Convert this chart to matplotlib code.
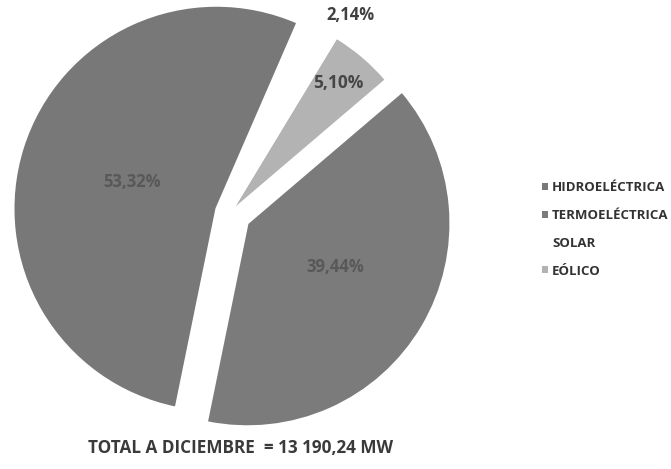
import matplotlib.pyplot as plt

# capacidad instalada por tipo de fuente (%)
fuentes = ["HIDROELÉCTRICA", "TERMOELÉCTRICA", "EÓLICO", "SOLAR"]
porcentajes = [53.32, 39.44, 5.10, 2.14]
colores = ["#787878", "#7b7b7b", "#b3b3b3", "#ffffff"]
separacion = [0.07, 0.10, 0.01, 0.0]
orden_leyenda = [0, 1, 3, 2]
total_mw = "13 190,24"

W, H = 671, 469
fig = plt.figure(figsize=(W / 100, H / 100), dpi=100)
ax = fig.add_axes([0, 0, 1, 1])

FONT = ["Open Sans", "DejaVu Sans"]

cuñas, _ = ax.pie(porcentajes, colors=colores, explode=[s * 203 for s in separacion],
                  startangle=66.5, counterclock=True, center=(230, 256), radius=203,
                  wedgeprops=dict(edgecolor="white", linewidth=1.5),
                  frame=True)
ax.set_xlim(0, W)
ax.set_ylim(0, H)
ax.set_aspect("equal")
ax.axis("off")

# etiquetas de porcentaje
pos_etiquetas = [(132, 287), (335, 202), (338, 386), (350, 454)]
estilo = [("#585858", 12), ("#585858", 12), ("#464646", 12.5), ("#404040", 12)]
for v, (x, y), (c, fs) in zip(porcentajes, pos_etiquetas, estilo):
    ax.text(x, y, f"{v:.2f}%".replace(".", ","), ha="center", va="center",
            color=c, fontweight="bold", fontsize=fs, family=FONT)

leg = ax.legend([cuñas[i] for i in orden_leyenda], [fuentes[i] for i in orden_leyenda],
                loc="upper left", bbox_to_anchor=(537 / W, 1 - 176 / H),
                frameon=False, handlelength=0.45, handleheight=0.45,
                handletextpad=0.3, labelspacing=1.12, borderaxespad=0,
                prop=dict(family=FONT, weight="bold", size=9.5))
for t in leg.get_texts():
    t.set_color("#333333")
for h in leg.legend_handles:
    h.set_linewidth(0)

fig.text(240 / W, 1 - 448 / H, f"TOTAL A DICIEMBRE  = {total_mw} MW",
         ha="center", va="center", fontsize=12.3, fontweight="bold",
         color="#3a3a3a", family=FONT)

fig.savefig("out.png", dpi=100)
